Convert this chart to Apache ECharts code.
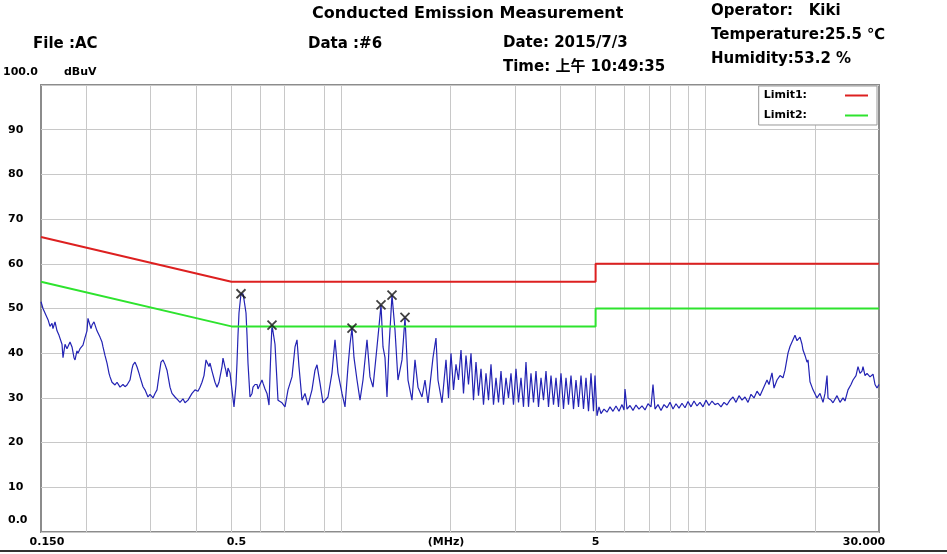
<!DOCTYPE html>
<html>
<head>
<meta charset="utf-8">
<script src="https://cdn.jsdelivr.net/npm/echarts@6/dist/echarts.min.js"></script>
<style>
html, body { margin: 0; padding: 0; background: #fff; }
#chart { width: 947px; height: 554px; }
</style>
</head>
<body>
<div id="chart"></div>
<script>
// limit lines, MHz / dBuV
const limitFreq = [0.15, 0.5, 5, 5, 30];
const limit1Level = [66, 56, 56, 60, 60];
const limit2Level = [56, 46, 46, 50, 50];

const traceLow = [
  [0.1500,51.5],[0.1519,50],[0.1548,48.5],[0.1568,47.5],[0.1588,46],[0.1608,46.7],[0.1618,45.5],[0.1639,47],
  [0.1660,45],[0.1681,44],[0.1691,43.6],[0.1713,42],[0.1724,39],[0.1746,42],[0.1768,41],[0.1779,40.7],
  [0.1802,42.5],[0.1825,41.4],[0.1848,39],[0.1860,38.5],[0.1883,40.5],[0.1895,40],[0.1920,41],[0.1944,40.7],
  [0.1956,41.8],[0.1981,43.5],[0.2006,45],[0.2019,47.8],[0.2032,47],[0.2058,45.5],[0.2071,46.3],[0.2097,47],
  [0.2111,46.7],[0.2137,45],[0.2178,43.6],[0.2206,42.5],[0.2220,41.4],[0.2248,39.5],[0.2277,37.8],[0.2306,35.5],
  [0.2321,34.7],[0.2350,33.5],[0.2395,32.9],[0.2426,33.5],[0.2472,32.4],[0.2519,33],[0.2551,32.5],[0.2584,32.9],
  [0.2633,34],[0.2667,36.5],[0.2684,37.4],[0.2718,38],[0.2753,36.9],[0.2788,35.5],[0.2805,34.7],[0.2859,32.5],
  [0.2895,31.8],[0.2950,30.2],[0.2988,30.8],[0.3045,30],[0.3084,31],[0.3123,31.8],[0.3163,35],[0.3203,38],
  [0.3244,38.5],[0.3285,37.5],[0.3327,36.2],[0.3391,32.4],[0.3434,31],[0.3500,30.2],[0.3567,29.5],[0.3612,29],
  [0.3681,29.8],[0.3728,28.9],[0.3800,29.5],[0.3848,29.5],[0.3897,31],[0.3972,31.8],[0.4047,31.5],[0.4099,32.4],
  [0.4151,33.5],[0.4204,35],[0.4258,38.5],[0.4284,38.5],[0.4339,37],[0.4367,37.8],[0.4422,36],[0.4450,35.6],
  [0.4507,33.5],[0.4564,32.4],[0.4622,33.5],[0.4651,33.3],[0.4711,37],[0.4741,38.9],[0.4801,36.9],[0.4831,36],
  [0.4862,34.7],[0.4893,36.7],[0.4955,35.6],[0.5018,31.8],[0.5082,28],[0.5147,33],[0.5179,37.8],[0.5212,44],
  [0.5245,49],[0.5312,53.3],[0.5380,53.3],[0.5414,52],[0.5483,49],[0.5518,44],[0.5552,37.8],[0.5623,30.2],
  [0.5695,31],[0.5731,32.4],[0.5804,33],[0.5878,33],[0.5915,32],[0.5990,32.4],[0.6066,34],[0.6105,33.3],
  [0.6183,32],[0.6261,31],[0.6341,28.4],[0.6381,35],[0.6422,41.4],[0.6462,46.3],[0.6503,46.3],[0.6544,45.9],
  [0.6586,42],[0.6628,37.8],[0.6712,29.5]
];
const traceMid = [
  [0.6884,28.9],[0.7016,28],[0.7150,31.8],[0.7333,34.7],[0.7474,41.4],[0.7569,43],[0.7665,37],[0.7812,29.5],
  [0.7961,31],[0.8114,28.4],[0.8321,31.8],[0.8481,36.2],[0.8589,37.4],[0.8753,33.3],[0.8921,28.9],[0.9207,30.2],
  [0.9443,35.6],[0.9624,43],[0.9808,35.6],[1.0060,31],[1.0253,28],[1.0449,37],[1.0582,42],[1.0717,45.6],
  [1.0853,39],[1.1061,34],[1.1273,29.5],[1.1488,34],[1.1783,43],[1.2008,34.7],[1.2238,32.4],[1.2551,41.4],
  [1.2711,46],[1.2873,50.8],[1.3037,41.4],[1.3203,39],[1.3370,30.2],[1.3541,41.4],[1.3800,53],[1.4064,45.2],
  [1.4333,34],[1.4700,38.5],[1.4982,48],[1.5269,34],[1.5660,29.5],[1.5960,38.5],[1.6265,32.4],[1.6682,30.2],
  [1.7001,34],[1.7327,28.9],[1.7883,39],[1.8225,43.4],[1.8457,34],[1.8932,28.9]
];
const traceBand = [
  [1.9416,38.5],[1.9726,30],[2.0040,40],[2.0359,31.8],[2.0683,37.5],[2.1013,34],[2.1348,40.7],[2.1688,31],
  [2.2033,39.5],[2.2384,33],[2.2741,40],[2.3103,29.5],[2.3471,38],[2.3845,30.5],[2.4225,36.5],[2.4611,28.5],
  [2.5003,35.5],[2.5401,29.5],[2.5806,37.5],[2.6217,28.5],[2.6634,34.5],[2.7059,29],[2.7490,36],[2.7928,28.5],
  [2.8373,34.5],[2.8824,30],[2.9284,35.5],[2.9750,28.5],[3.0224,36.5],[3.0706,29],[3.1195,34.5],[3.1692,28],
  [3.2196,38],[3.2709,28],[3.3230,35.5],[3.3760,29],[3.4298,36],[3.4844,28],[3.5402,34.5],[3.5966,29.5],
  [3.6539,36],[3.7121,28],[3.7712,35],[3.8313,28.5],[3.8923,34.5],[3.9543,28],[4.0173,35.5],[4.0813,27.5],
  [4.1464,34.5],[4.2124,28.5],[4.2795,35],[4.3477,27.5],[4.4169,34],[4.4873,28],[4.5588,35],[4.6314,27.5],
  [4.7052,34.5],[4.7801,27],[4.8563,35.5],[4.9336,27],[4.9807,35],[5.0440,26]
];
const traceHigh = [
  [5.1082,28],[5.1732,26.5],[5.2723,27.5],[5.3732,26.8],[5.4761,28],[5.5810,27],[5.6878,28.2],[5.7967,27],
  [5.9078,28.5],[5.9830,27.3],[6.0209,32],[6.0975,27.5],[6.2143,28.3],[6.3333,27.2],[6.4545,28.4],[6.5781,27.5],
  [6.7044,28.2],[6.8328,27.3],[6.9637,28.7],[7.0970,28],[7.1873,33],[7.2788,27.5],[7.4181,28.5],[7.5602,27.2],
  [7.7050,28.5],[7.8525,27.8],[8.0028,29],[8.1562,27.5],[8.3123,28.7],[8.4715,27.7],[8.6337,28.8],[8.7991,27.8],
  [8.9675,29.2],[9.1393,28],[9.3143,29.3],[9.4926,28.2],[9.6744,29],[9.8597,28],[10.048,29.5],[10.241,28.3],
  [10.437,29.3],[10.637,28.5],[10.840,28.8],[11.048,28],[11.260,29],[11.475,28.4],[11.695,29.5],[11.919,30.2],
  [12.147,29],[12.380,30.5],[12.617,29.5],[12.858,30.2],[13.105,29],[13.356,30.8],[13.612,30],[13.872,31.5],
  [14.138,30.5],[14.408,32],[14.777,34],[14.965,33],[15.252,35.6],[15.446,32.2],[15.742,34],[16.044,35],
  [16.350,34.5],[16.559,36.2],[16.875,40],[17.090,41.5],[17.308,42.5],[17.640,44],[17.864,42.8],[18.206,43.6],
  [18.438,42],[18.555,40.7],[18.791,39.5],[19.030,38],[19.151,38.5],[19.394,33.6],[19.766,31.8],[20.273,30],
  [20.661,31],[21.057,29],[21.325,31],[21.596,35],[21.733,30],[22.149,29.5],[22.431,28.9],[23.005,30.5],
  [23.446,29],[23.894,30],[24.198,29.3],[24.662,31.8],[25.134,33],[25.454,34],[25.941,35],[26.271,37],
  [26.605,35.5],[26.945,36],[27.116,37],[27.461,35],[27.810,35.5],[28.343,34.7],[28.886,35.3],[29.254,33],
  [29.626,32.2],[30.000,33]
];

// marked peaks
const peakFreq = [0.5312, 0.6462, 1.0717, 1.2873, 1.3800, 1.4982];
const peakLevel = [53.3, 46.3, 45.6, 50.8, 53.0, 48.0];

// frequency grid and labels
const xGridValues = [0.2, 0.3, 0.4, 0.5, 0.6, 0.7, 0.9, 1, 2, 3, 4, 5, 6, 7, 8, 9, 10, 20];
const xTickValues = [0.15, 0.5, 5, 30];
const xTickLabels = ['{a|0.150}', '{b|0.5}', '{c|5}', '{z|30.000}'];

const font = "'DejaVu Sans', 'Noto Sans CJK SC', sans-serif";
const zip = (xs, ys) => xs.map((x, i) => [x, ys[i]]);
const trace = traceLow.concat(traceMid, traceBand, traceHigh);

const tick = { fontSize: 11, fontWeight: 'bold', fontFamily: font, color: '#000' };
const head = (text, x, y, size) => ({
    type: 'text', x: x, y: y, silent: true,
    style: { text: text, font: 'bold ' + size + 'px ' + font, fill: '#000', align: 'left', verticalAlign: 'middle' }
});

const chart = echarts.init(document.getElementById('chart'));
chart.setOption({
    animation: false,
    backgroundColor: '#fff',
    grid: {
        left: 41, right: 68, top: 85, bottom: 22,
        containLabel: false, outerBoundsMode: 'none',
        show: true, borderColor: '#8c8c8c', borderWidth: 2, backgroundColor: '#fff'
    },
    graphic: [
        head('Conducted Emission Measurement', 312, 14, 16),
        head('File :AC', 33, 44, 15),
        head('Data :#6', 308, 44, 15),
        head('Date: 2015/7/3', 503, 43, 15),
        head('Time: 上午 10:49:35', 503, 67, 15),
        head('Operator:   Kiki', 711, 11, 15),
        head('Temperature:25.5 ℃', 711, 35, 15),
        head('Humidity:53.2 %', 711, 59, 15),
        { type: 'rect', silent: true, shape: { x: 0, y: 550, width: 947, height: 2 }, style: { fill: '#333' } }
    ],
    legend: {
        data: ['Limit1', 'Limit2'],
        formatter: '{name}:',
        orient: 'vertical', align: 'right',
        right: 70, top: 86,
        itemGap: 9, itemWidth: 23, itemHeight: 2, icon: 'rect',
        padding: [4, 9, 4, 5],
        backgroundColor: '#fff', borderColor: '#999', borderWidth: 1,
        textStyle: Object.assign({ padding: [0, 33, 0, 0] }, tick),
        selectedMode: false
    },
    xAxis: {
        type: 'log', logBase: 10, min: 0.15, max: 30,
        axisLine: { show: false },
        axisTick: { show: false, customValues: xGridValues },
        splitLine: { show: true, lineStyle: { color: '#c8c8c8', width: 1 } },
        axisLabel: Object.assign({
            customValues: xTickValues,
            margin: 5,
            formatter: function (v) {
                const i = xTickValues.findIndex(t => Math.abs(v - t) / t < 1e-6);
                return i < 0 ? '' : xTickLabels[i];
            },
            rich: {
                a: Object.assign({ padding: [0, 0, 0, 12] }, tick),
                b: Object.assign({ padding: [0, 0, 0, 10] }, tick),
                c: Object.assign({}, tick),
                z: Object.assign({ padding: [0, 30, 0, 0] }, tick)
            }
        }, tick),
        name: '(MHz)', nameLocation: 'middle', nameGap: 5, nameMoveOverlap: false,
        nameTextStyle: Object.assign({ padding: [0, 28, 0, 0] }, tick)
    },
    yAxis: {
        type: 'value', min: 0, max: 100, interval: 10,
        axisLine: { show: false },
        axisTick: { show: false },
        splitLine: { show: true, lineStyle: { color: '#c8c8c8', width: 1 } },
        axisLabel: Object.assign({
            align: 'left', margin: 38,
            formatter: function (v) {
                if (v === 100) return '{t|100.0}';
                if (v === 0) return '{o|0.0}';
                return '{v|' + v + '}';
            },
            rich: {
                t: Object.assign({ padding: [0, 0, 26, 0] }, tick),
                o: Object.assign({ padding: [0, 0, 24, 5] }, tick),
                v: Object.assign({ padding: [0, 0, 0, 5] }, tick)
            }
        }, tick),
        name: 'dBuV', nameLocation: 'end', nameGap: 7,
        nameTextStyle: Object.assign({ align: 'left', padding: [0, 0, 0, 23] }, tick)
    },
    series: [
        {
            name: 'Trace', type: 'line', data: trace, symbol: 'none', silent: true, z: 2,
            lineStyle: { color: '#2323b4', width: 1.2 }
        },
        {
            name: 'Limit1', type: 'line', data: zip(limitFreq, limit1Level), symbol: 'none', silent: true, z: 3,
            lineStyle: { color: '#dd2020', width: 2 }, itemStyle: { color: '#dd2020' }
        },
        {
            name: 'Limit2', type: 'line', data: zip(limitFreq, limit2Level), symbol: 'none', silent: true, z: 3,
            lineStyle: { color: '#2ee32e', width: 2 }, itemStyle: { color: '#2ee32e' }
        },
        {
            name: 'Peaks', type: 'scatter', data: zip(peakFreq, peakLevel), silent: true, z: 4,
            symbol: 'path://M0,0L10,10M10,0L0,10', symbolSize: 9,
            itemStyle: { color: 'rgba(0,0,0,0)', borderColor: '#111', borderWidth: 1.8 }
        }
    ]
});
</script>
</body>
</html>
